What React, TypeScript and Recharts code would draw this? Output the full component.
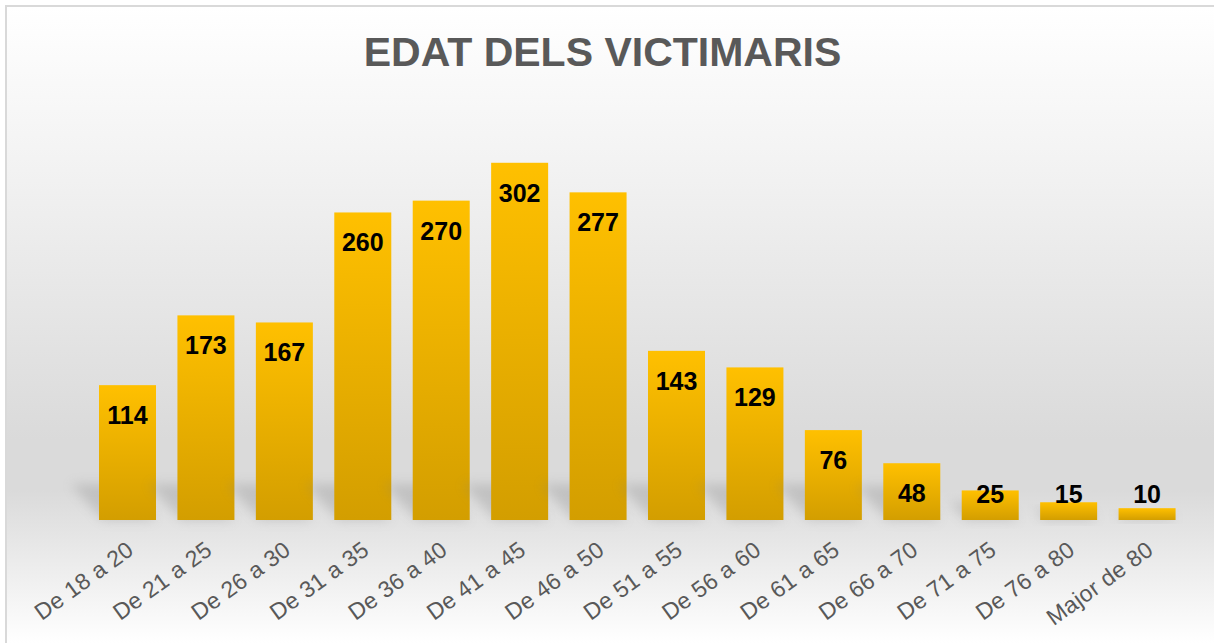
import { BarChart, Bar, XAxis, YAxis, LabelList } from "recharts";

const categories = [
  "De 18 a 20",
  "De 21 a 25",
  "De 26 a 30",
  "De 31 a 35",
  "De 36 a 40",
  "De 41 a 45",
  "De 46 a 50",
  "De 51 a 55",
  "De 56 a 60",
  "De 61 a 65",
  "De 66 a 70",
  "De 71 a 75",
  "De 76 a 80",
  "Major de 80",
];
const counts = [114, 173, 167, 260, 270, 302, 277, 143, 129, 76, 48, 25, 15, 10];

const data = categories.map((name, i) => ({ name, value: counts[i] }));

const AngleTick = ({ x, y, payload }: any) => {
  const tx = x + 8;
  const ty = y + 25;
  return (
    <text
      x={tx}
      y={ty}
      transform={`rotate(-36, ${tx}, ${ty})`}
      textAnchor="end"
      fill="#595959"
      fontSize={23}
      letterSpacing={0.3}
      fontFamily="Liberation Sans, Arial, sans-serif"
    >
      {payload.value}
    </text>
  );
};

// bar with a soft shadow thrown up and to the left behind it
const ShadowBar = ({ x, y, width, height }: any) => {
  const base = y + height;
  const sh = Math.min(36, height * 0.6);
  const pts = `${x + 4},${base} ${x + width},${base} ${x + width - sh * 0.9},${base - sh} ${x + 4 - sh * 0.9},${base - sh}`;
  return (
    <g>
      <polygon points={pts} fill="#7f7f7f" opacity={0.28} filter="url(#blur)" />
      <rect x={x} y={y} width={width} height={height} fill="url(#gold)" />
    </g>
  );
};

// label sits inside the top of the bar, but never lower than a fixed line near the base
const ValueLabel = ({ x, y, width, value }: any) => {
  const baseY = Math.min(y + 39, 503);
  return (
    <text
      x={x + width / 2}
      y={baseY}
      textAnchor="middle"
      fill="#000"
      fontSize={25}
      fontWeight="bold"
      fontFamily="Liberation Sans, Arial, sans-serif"
    >
      {value}
    </text>
  );
};

export default function App() {
  return (
    <div style={{ position: "absolute", left: 0, top: 0, width: 1214, height: 643, background: "#fff" }}>
      <div
        style={{
          position: "absolute",
          left: 5,
          top: 5,
          width: 1209,
          height: 638,
          boxSizing: "border-box",
          borderTop: "2px solid #d9d9d9",
          borderLeft: "2px solid #d9d9d9",
          background:
            "linear-gradient(to bottom, #ffffff 0%, #f4f4f4 22%, #dadada 68%, #dadada 76%, #ffffff 100%)",
        }}
      />
      <div
        style={{
          position: "absolute",
          left: 0,
          top: 32,
          width: 1205,
          textAlign: "center",
          fontFamily: "Liberation Sans, Arial, sans-serif",
          fontWeight: "bold",
          fontSize: 41,
          color: "#595959",
          lineHeight: "41px",
        }}
      >
        EDAT DELS VICTIMARIS
      </div>
      <div style={{ position: "absolute", left: 0, top: 0 }}>
        <BarChart
          width={1214}
          height={643}
          data={data}
          margin={{ top: 106, right: 28, bottom: 23, left: 88 }}
        >
          <defs>
            <linearGradient id="gold" x1="0" y1="0" x2="0" y2="1">
              <stop offset="0%" stopColor="#ffc000" />
              <stop offset="100%" stopColor="#d39e00" />
            </linearGradient>
            <filter id="blur" x="-50%" y="-50%" width="200%" height="200%">
              <feGaussianBlur stdDeviation="6" />
            </filter>
          </defs>
          <XAxis
            dataKey="name"
            axisLine={false}
            tickLine={false}
            interval={0}
            height={100}
            tick={<AngleTick />}
          />
          <YAxis hide domain={[0, 350]} />
          <Bar
            dataKey="value"
            fill="url(#gold)"
            barSize={57}
            shape={<ShadowBar />}
            isAnimationActive={false}
          >
            <LabelList dataKey="value" content={<ValueLabel />} />
          </Bar>
        </BarChart>
      </div>
    </div>
  );
}
